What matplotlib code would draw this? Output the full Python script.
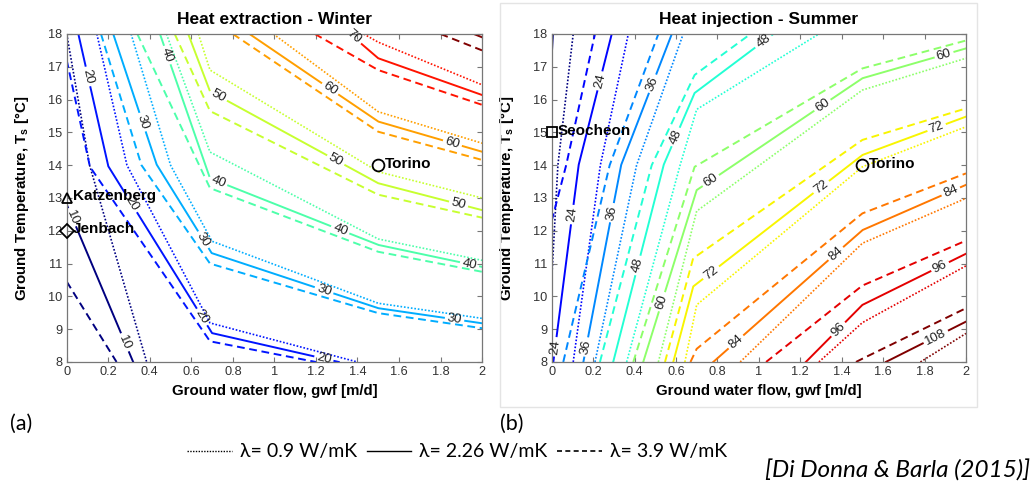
import numpy as np
import matplotlib
matplotlib.use('Agg')
import matplotlib.pyplot as plt
from matplotlib.lines import Line2D
from matplotlib.patches import Rectangle

plt.rcParams['font.family'] = ['Liberation Sans', 'DejaVu Sans']
plt.rcParams['mathtext.fontset'] = 'custom'
plt.rcParams['mathtext.rm'] = 'Liberation Sans'
plt.rcParams['mathtext.bf'] = 'Liberation Sans:bold'

GWF_TICKS = [0, 0.2, 0.4, 0.6, 0.8, 1, 1.2, 1.4, 1.6, 1.8, 2]
TS_TICKS = list(range(8, 19))

# heat extraction (winter), contour lines as (gwf, Ts) vertices, per lambda
winter_dotted = {  # lambda = 0.9 W/mK
    10: [(0.0, 18.0), (0.11, 14.0), (0.385, 8.0)],
    20: [(0.145, 18.0), (0.29, 14.0), (0.69, 9.19), (1.4, 8.0)],
    30: [(0.31, 18.0), (0.5, 14.0), (0.7, 11.68), (1.5, 9.79), (2.0, 9.33)],
    40: [(0.48, 18.0), (0.69, 14.4), (1.5, 11.75), (2.0, 11.1)],
    50: [(0.634, 18.0), (0.69, 16.9), (1.5, 13.8), (2.0, 13.0)],
    60: [(0.995, 18.0), (1.5, 15.63), (2.0, 14.67)],
    70: [(1.43, 18.0), (1.5, 17.75), (2.0, 16.45)],
}
winter_solid = {  # lambda = 2.26 W/mK
    10: [(0.0, 12.8), (0.32, 8.0)],
    20: [(0.056, 18.0), (0.2, 13.97), (0.7, 8.88), (1.31, 8.0)],
    30: [(0.224, 18.0), (0.433, 14.02), (0.698, 11.32), (1.5, 9.64), (2.0, 9.18)],
    40: [(0.449, 18.0), (0.69, 13.6), (1.5, 11.57), (2.0, 10.9)],
    50: [(0.585, 18.0), (0.69, 16.25), (1.5, 13.45), (2.0, 12.63)],
    60: [(0.88, 18.0), (1.5, 15.33), (2.0, 14.41)],
    70: [(1.364, 18.0), (1.5, 17.26), (2.0, 16.14)],
    80: [(1.96, 18.0), (2.0, 17.9)],
}
winter_dashed = {  # lambda = 3.9 W/mK
    10: [(0.0, 10.45), (0.24, 8.0)],
    20: [(0.0, 17.2), (0.112, 13.95), (0.69, 8.63), (1.2, 8.0)],
    30: [(0.165, 18.0), (0.36, 14.0), (0.69, 11.0), (1.5, 9.49), (2.0, 9.03)],
    40: [(0.34, 18.0), (0.69, 13.3), (1.5, 11.36), (2.0, 10.75)],
    50: [(0.52, 18.0), (0.69, 15.65), (1.5, 13.1), (2.0, 12.4)],
    60: [(0.80, 18.0), (1.5, 15.02), (2.0, 14.16)],
    70: [(1.195, 18.0), (1.5, 16.9), (2.0, 15.84)],
    80: [(1.8, 18.0), (2.0, 17.5)],
}
winter_labels = {
    10: [(0.024, 12.4), (0.29, 8.63)],
    20: [(0.10, 16.7), (0.32, 12.85), (0.66, 9.4), (1.24, 8.16)],
    30: [(0.377, 15.34), (0.658, 11.73), (1.24, 10.2), (1.87, 9.38)],
    40: [(0.46, 17.3), (0.73, 13.5), (1.32, 12.08), (1.94, 11.0)],
    50: [(0.73, 16.1), (1.29, 14.1), (1.89, 12.89)],
    60: [(1.27, 16.34), (1.86, 14.72)],
    70: [(1.38, 17.9)],
}

# heat injection (summer)
summer_dotted = {
    12: [(0.0, 10.5), (0.03, 14.0), (0.104, 18.0)],
    24: [(0.104, 8.0), (0.235, 14.0), (0.37, 18.0)],
    36: [(0.209, 8.0), (0.41, 14.0), (0.635, 18.0)],
    48: [(0.362, 8.0), (0.62, 14.0), (0.70, 15.7), (1.29, 18.0)],
    60: [(0.515, 8.0), (0.70, 12.6), (1.5, 16.29), (2.0, 17.26)],
    72: [(0.643, 8.0), (0.70, 9.74), (1.5, 13.95), (2.0, 15.17)],
    84: [(0.91, 8.0), (1.5, 11.62), (2.0, 12.99)],
    96: [(1.29, 8.0), (1.5, 9.2), (2.0, 10.93)],
    108: [(1.78, 8.0), (2.0, 8.87)],
}
summer_solid = {
    12: [(0.0, 17.3), (0.006, 18.0)],
    24: [(0.008, 8.0), (0.13, 14.0), (0.29, 18.0)],
    36: [(0.153, 8.0), (0.335, 14.0), (0.58, 18.0)],
    48: [(0.297, 8.0), (0.54, 14.0), (0.69, 16.2), (1.07, 18.0)],
    60: [(0.442, 8.0), (0.70, 13.24), (1.5, 16.65), (2.0, 17.56)],
    72: [(0.587, 8.0), (0.683, 10.3), (1.5, 14.31), (2.0, 15.48)],
    84: [(0.78, 8.0), (1.5, 12.02), (2.0, 13.4)],
    96: [(1.227, 8.0), (1.5, 9.74), (2.0, 11.3)],
    108: [(1.613, 8.0), (2.0, 9.23)],
}
summer_dashed = {
    24: [(0.0, 12.3), (0.07, 14.0), (0.209, 18.0)],
    36: [(0.056, 8.0), (0.28, 14.0), (0.515, 18.0)],
    48: [(0.233, 8.0), (0.483, 14.0), (0.69, 16.75), (0.96, 18.0)],
    60: [(0.394, 8.0), (0.69, 13.95), (1.5, 16.95), (2.0, 17.8)],
    72: [(0.547, 8.0), (0.683, 11.16), (1.5, 14.77), (2.0, 15.73)],
    84: [(0.67, 8.0), (0.70, 8.4), (1.5, 12.53), (2.0, 13.75)],
    96: [(1.035, 8.0), (1.5, 10.33), (2.0, 11.7)],
    108: [(1.469, 8.0), (1.5, 8.1), (2.0, 9.64)],
}
summer_labels = {
    24: [(0.017, 8.46), (0.095, 12.5), (0.217, 16.6)],
    36: [(0.165, 8.46), (0.281, 12.56), (0.482, 16.5)],
    48: [(0.40, 10.97), (0.595, 14.87), (1.03, 17.7)],
    60: [(0.53, 9.84), (0.756, 13.64), (1.30, 15.9), (1.89, 17.46)],
    72: [(0.772, 10.7), (1.28, 13.5), (1.855, 15.2)],
    84: [(0.885, 8.65), (1.356, 11.41), (1.92, 13.3)],
    96: [(1.356, 9.16), (1.86, 11.1)],
    108: [(1.835, 9.0)],
}

winter_sites = ['Katzenberg', 'Jenbach', 'Torino']
winter_site_gwf = [0.0, 0.0, 1.5]
winter_site_ts = [13.0, 12.0, 14.0]
winter_site_marker = ['^', 'D', 'o']

summer_sites = ['Seocheon', 'Torino']
summer_site_gwf = [0.0, 1.5]
summer_site_ts = [15.0, 14.0]
summer_site_marker = ['s', 'o']

STYLES = {
    'dotted': dict(ls=(0, (1, 1.1)), lw=1.2),
    'solid': dict(ls='-', lw=1.4),
    'dashed': dict(ls=(0, (4, 2.4)), lw=1.4),
}


def snap(ax, pts, guess):
    xy = ax.transData.transform(np.asarray(pts, float))
    g = ax.transData.transform(guess)
    best = None
    for a, b in zip(xy[:-1], xy[1:]):
        d = b - a
        t = np.clip(np.dot(g - a, d) / np.dot(d, d), 0, 1)
        p = a + t * d
        dist = np.hypot(*(g - p))
        if best is None or dist < best[0]:
            best = (dist, p, d)
    _, p, d = best
    ang = np.degrees(np.arctan2(d[1], d[0]))
    if ang > 90:
        ang -= 180
    if ang < -90:
        ang += 180
    return p, ang


def broken_line(ax, pts, holes):
    xy = ax.transData.transform(np.asarray(pts, float))
    s = np.concatenate([[0], np.cumsum(np.hypot(*np.diff(xy, axis=0).T))])
    ss = np.union1d(np.linspace(0, s[-1], max(int(s[-1] * 2), 2)), s)
    dense = np.column_stack([np.interp(ss, s, xy[:, 0]), np.interp(ss, s, xy[:, 1])])
    for c, r in holes:
        dense[np.hypot(*(dense - c).T) < r] = np.nan
    return ax.transData.inverted().transform(dense)


def draw_panel(ax, title, dotted, solid, dashed, labels, vmin, vmax,
               sites, site_g, site_t, site_m):
    ax.set_xlim(0, 2)
    ax.set_ylim(8, 18)
    color = lambda lev: plt.cm.jet(np.clip((lev - vmin) / (vmax - vmin), 0, 1))

    for lev, pts in dotted.items():
        x, y = zip(*pts)
        ax.plot(x, y, color=color(lev), **STYLES['dotted'])
    for lev, pts in dashed.items():
        x, y = zip(*pts)
        ax.plot(x, y, color=color(lev), **STYLES['dashed'])
    for lev, pts in solid.items():
        holes, texts = [], []
        for guess in labels.get(lev, []):
            p, ang = snap(ax, pts, guess)
            r = 3.8 * len(str(lev)) + 3
            holes.append((p, r))
            texts.append((p, ang))
        line = broken_line(ax, pts, holes)
        ax.plot(line[:, 0], line[:, 1], color=color(lev), **STYLES['solid'])
        inv = ax.transData.inverted()
        for p, ang in texts:
            x, y = inv.transform(p)
            ax.text(x, y, str(lev), fontsize=9.5, color='#222222', rotation=ang,
                    rotation_mode='anchor', ha='center', va='center')

    for name, g, t, m in zip(sites, site_g, site_t, site_m):
        ms = 8.5 if m == 'o' else 7
        ax.plot(g, t, marker=m, ms=ms, mfc='none', mec='black', mew=1.3,
                clip_on=False, zorder=5)
        ax.text(g + 0.03, t + 0.05, name, fontsize=11, fontweight='bold',
                ha='left', va='center', zorder=6)

    ax.set_xticks(GWF_TICKS)
    ax.set_xticklabels([f'{v:g}' for v in GWF_TICKS])
    ax.set_yticks(TS_TICKS)
    ax.tick_params(direction='in', top=True, right=True, length=3.5, width=0.8,
                   color='#777777', labelsize=9.2, labelcolor='#333333', pad=3)
    for sp in ax.spines.values():
        sp.set_color('#777777')
        sp.set_linewidth(0.9)
    ax.set_title(title, fontsize=12.5, fontweight='bold', pad=7)
    ax.set_xlabel('Ground water flow, gwf [m/d]', fontsize=10.8, fontweight='bold', labelpad=4)
    ax.set_ylabel(r'Ground Temperature, T$_\mathbf{s}$ [°C]', fontsize=10.8, fontweight='bold')
    ax.yaxis.set_label_coords(-0.085, 0.5)


fig = plt.figure(figsize=(10.36, 4.84), dpi=100)
ax1 = fig.add_axes([0.0644, 0.2521, 0.4009, 0.6777])
ax2 = fig.add_axes([0.5325, 0.2521, 0.3999, 0.6777])

fig.add_artist(Rectangle((500 / 1036, 1 - 407 / 484), 477 / 1036, 404 / 484,
                         transform=fig.transFigure, fill=False, ec='#e4e4e4', lw=1))

draw_panel(ax1, 'Heat extraction - Winter', winter_dotted, winter_solid, winter_dashed,
           winter_labels, 10, 77.6, winter_sites, winter_site_gwf, winter_site_ts,
           winter_site_marker)
draw_panel(ax2, 'Heat injection - Summer', summer_dotted, summer_solid, summer_dashed,
           summer_labels, 12, 104, summer_sites, summer_site_gwf, summer_site_ts,
           summer_site_marker)

body_font = ['Lato', 'DejaVu Sans']
fig.text(10 / 1036, 1 - 424 / 484, '(a)', fontsize=15.5, family=body_font, va='center')
fig.text(500 / 1036, 1 - 424 / 484, '(b)', fontsize=15.5, family=body_font, va='center')

handles = [Line2D([], [], color='black', lw=1.0, ls=(0, (1, 1))),
           Line2D([], [], color='black', lw=1.0, ls='-'),
           Line2D([], [], color='black', lw=1.2, ls=(0, (3, 2)))]
fig.legend(handles, ['λ= 0.9 W/mK', 'λ= 2.26 W/mK', 'λ= 3.9 W/mK'],
           loc='center', bbox_to_anchor=(457 / 1036, 1 - 452 / 484), ncol=3,
           frameon=False, handlelength=2.3, handletextpad=0.4, columnspacing=0.5,
           prop={'family': body_font, 'size': 14})
fig.text(1030 / 1036, 1 - 471 / 484, '[Di Donna & Barla (2015)]', fontsize=17.5,
         family=body_font, style='italic', ha='right', va='center')

fig.savefig('out.png', dpi=100)
